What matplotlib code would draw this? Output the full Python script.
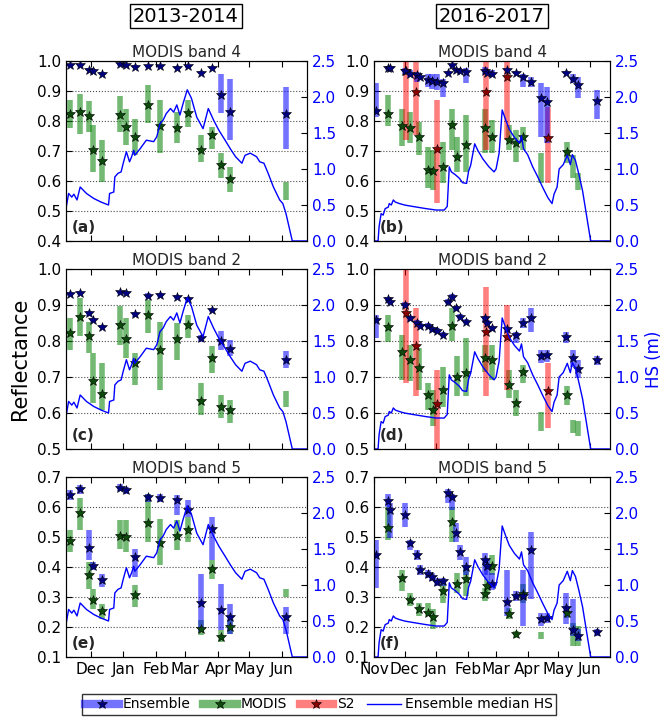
import numpy as np
import matplotlib
matplotlib.use("Agg")
import matplotlib.pyplot as plt
import matplotlib.dates as mdates
from matplotlib.lines import Line2D
from matplotlib.legend_handler import HandlerTuple

nan = np.nan

# ---------------- 2013-2014 season ----------------
dates_13 = ["2013-11-11", "2013-11-21", "2013-11-29", "2013-12-03", "2013-12-12",
            "2013-12-29", "2014-01-04", "2014-01-12", "2014-01-25", "2014-02-05",
            "2014-02-21", "2014-03-04", "2014-03-16", "2014-03-27", "2014-04-04",
            "2014-04-13", "2014-06-05"]

# (a) band 4
a_ens = [0.986, 0.986, 0.971, 0.967, 0.958, 0.989, 0.986, 0.980, 0.982, 0.982, 0.978, 0.982, 0.961, 0.978, 0.886, 0.830, 0.823]
a_ens_lo = [0.981, 0.981, 0.966, 0.962, 0.953, 0.984, 0.981, 0.975, 0.977, 0.977, 0.973, 0.977, 0.956, 0.973, 0.825, 0.738, 0.708]
a_ens_hi = [0.991, 0.991, 0.976, 0.972, 0.963, 0.994, 0.991, 0.985, 0.987, 0.987, 0.983, 0.987, 0.966, 0.983, 0.958, 0.941, 0.914]
a_mod = [0.823, 0.830, 0.816, 0.703, 0.667, 0.819, 0.780, 0.745, 0.853, 0.783, 0.778, 0.827, 0.703, 0.753, 0.653, 0.605, nan]
a_mod_lo = [0.775, 0.758, 0.764, 0.631, 0.598, 0.764, 0.720, 0.686, 0.792, 0.692, 0.725, 0.780, 0.664, 0.708, 0.609, 0.564, 0.537]
a_mod_hi = [0.869, 0.891, 0.866, 0.786, 0.738, 0.882, 0.841, 0.808, 0.919, 0.869, 0.830, 0.869, 0.753, 0.780, 0.692, 0.647, 0.598]

# (c) band 2
c_ens = [0.930, 0.934, 0.877, 0.859, 0.840, 0.935, 0.933, 0.874, 0.926, 0.928, 0.923, 0.916, 0.808, 0.886, 0.800, 0.777, 0.748]
c_ens_lo = [0.925, 0.929, 0.870, 0.853, 0.835, 0.930, 0.928, 0.868, 0.920, 0.923, 0.918, 0.910, 0.796, 0.880, 0.775, 0.757, 0.725]
c_ens_hi = [0.935, 0.939, 0.883, 0.865, 0.845, 0.940, 0.938, 0.880, 0.932, 0.933, 0.928, 0.922, 0.818, 0.892, 0.829, 0.803, 0.771]
c_mod = [0.823, 0.868, 0.814, 0.688, 0.652, 0.845, 0.805, 0.738, 0.872, 0.775, 0.805, 0.845, 0.632, 0.752, 0.618, 0.609, nan]
c_mod_lo = [0.775, 0.814, 0.766, 0.628, 0.609, 0.789, 0.752, 0.678, 0.822, 0.665, 0.748, 0.808, 0.595, 0.711, 0.586, 0.572, 0.618]
c_mod_hi = [0.863, 0.919, 0.854, 0.766, 0.738, 0.896, 0.863, 0.766, 0.914, 0.854, 0.849, 0.872, 0.683, 0.785, 0.651, 0.637, 0.660]

# (e) band 5
e_ens = [0.639, 0.661, 0.464, 0.402, 0.356, 0.664, 0.656, 0.433, 0.633, 0.630, 0.624, 0.591, 0.280, 0.528, 0.258, 0.233, 0.233]
e_ens_lo = [0.622, 0.644, 0.422, 0.389, 0.333, 0.653, 0.644, 0.367, 0.617, 0.617, 0.572, 0.567, 0.183, 0.422, 0.189, 0.178, 0.178]
e_ens_hi = [0.656, 0.672, 0.522, 0.417, 0.378, 0.676, 0.667, 0.461, 0.644, 0.644, 0.639, 0.622, 0.378, 0.567, 0.344, 0.278, 0.267]
e_mod = [0.487, 0.580, 0.372, 0.291, 0.253, 0.502, 0.500, 0.306, 0.547, 0.480, 0.502, 0.524, 0.194, 0.394, 0.167, 0.200, nan]
e_mod_lo = [0.450, 0.522, 0.328, 0.261, 0.228, 0.461, 0.450, 0.267, 0.483, 0.406, 0.456, 0.483, 0.172, 0.361, 0.150, 0.178, 0.300]
e_mod_hi = [0.522, 0.631, 0.417, 0.328, 0.278, 0.558, 0.556, 0.339, 0.644, 0.561, 0.556, 0.567, 0.222, 0.422, 0.189, 0.222, 0.328]

hs_dates_13 = ["2013-11-07", "2013-11-10", "2013-11-13", "2013-11-15", "2013-11-18", "2013-11-21",
               "2013-11-27", "2013-12-04", "2013-12-11", "2013-12-18", "2013-12-19", "2013-12-23",
               "2013-12-24", "2013-12-27", "2013-12-30", "2014-01-01", "2014-01-04", "2014-01-07",
               "2014-01-09", "2014-01-11", "2014-01-12", "2014-01-17", "2014-01-23", "2014-01-30",
               "2014-02-02", "2014-02-05", "2014-02-08", "2014-02-11", "2014-02-15", "2014-02-18",
               "2014-02-21", "2014-02-24", "2014-02-27", "2014-03-03", "2014-03-07", "2014-03-12",
               "2014-03-18", "2014-03-23", "2014-03-28", "2014-04-02", "2014-04-08", "2014-04-13",
               "2014-04-18", "2014-04-24", "2014-04-27", "2014-05-02", "2014-05-08", "2014-05-11",
               "2014-05-15", "2014-05-19", "2014-05-24", "2014-05-27", "2014-05-30", "2014-06-02",
               "2014-06-05", "2014-06-11", "2014-06-26"]
hs_13 = [0.41, 0.66, 0.61, 0.65, 0.57, 0.75,
         0.66, 0.59, 0.54, 0.50, 0.66, 0.68,
         0.89, 0.94, 0.96, 1.08, 1.24, 1.10,
         1.17, 1.26, 1.19, 1.28, 1.40, 1.38,
         1.45, 1.63, 1.68, 1.77, 1.84, 1.79,
         1.89, 1.75, 1.91, 2.10, 1.98, 1.72,
         1.56, 1.84, 1.68, 1.54, 1.40, 1.28,
         1.17, 1.08, 1.19, 1.22, 1.17, 1.10,
         1.08, 0.94, 0.75, 0.66, 0.57, 0.52,
         0.38, 0.0, 0.0]

# ---------------- 2016-2017 season ----------------
ens_dates_16 = ["2016-11-03", "2016-11-15", "2016-11-17", "2016-12-01", "2016-12-06", "2016-12-13",
                "2016-12-16", "2016-12-24", "2016-12-28", "2017-01-02", "2017-01-08", "2017-01-13",
                "2017-01-17", "2017-01-21", "2017-01-25", "2017-01-30", "2017-02-18", "2017-02-20",
                "2017-02-25", "2017-03-12", "2017-03-21", "2017-03-27", "2017-04-04", "2017-04-14",
                "2017-04-20", "2017-05-09", "2017-05-16", "2017-05-21", "2017-06-08"]
mod_dates_16 = ["2016-11-15", "2016-11-29", "2016-12-06", "2016-12-15", "2016-12-24", "2016-12-29",
                "2017-01-08", "2017-01-17", "2017-01-22", "2017-01-30", "2017-02-18", "2017-02-20",
                "2017-02-25", "2017-03-14", "2017-03-21", "2017-03-27", "2017-04-14", "2017-05-10",
                "2017-05-16", "2017-05-21"]
s2_dates_16 = ["2016-12-02", "2016-12-12", "2017-01-02", "2017-02-19", "2017-03-12", "2017-04-21"]

# (b) band 4
b_ens = [0.833, 0.975, 0.975, 0.967, 0.958, 0.952, 0.945, 0.936, 0.933, 0.930, 0.927, 0.961, 0.986, 0.971, 0.967,
         0.963, 0.967, 0.961, 0.955, 0.971, 0.961, 0.947, 0.930, 0.875, 0.864, 0.961, 0.941, 0.919, 0.867]
b_ens_lo = [0.814, 0.970, 0.970, 0.955, 0.947, 0.930, 0.940, 0.914, 0.908, 0.903, 0.881, 0.956, 0.981, 0.966, 0.962,
            0.925, 0.955, 0.956, 0.947, 0.966, 0.956, 0.914, 0.914, 0.747, 0.725, 0.956, 0.925, 0.875, 0.808]
b_ens_hi = [0.925, 0.980, 0.980, 0.975, 0.969, 0.963, 0.950, 0.958, 0.958, 0.958, 0.941, 0.966, 0.991, 0.976, 0.972,
            0.975, 0.980, 0.966, 0.969, 0.976, 0.966, 0.958, 0.947, 0.927, 0.914, 0.966, 0.958, 0.947, 0.902]
b_mod = [0.823, 0.784, 0.778, 0.747, 0.636, 0.633, 0.647, 0.786, 0.681, 0.720, 0.775, nan, 0.745, 0.736, 0.727,
         0.745, nan, 0.697, nan, nan]
b_mod_lo = [0.783, 0.716, 0.725, 0.686, 0.575, 0.570, 0.592, 0.703, 0.631, 0.631, 0.692, nan, 0.692, 0.703, 0.664,
            0.703, 0.592, 0.659, 0.609, 0.570]
b_mod_hi = [0.886, 0.841, 0.830, 0.797, 0.714, 0.703, 0.731, 0.841, 0.747, 0.819, 0.841, nan, 0.803, 0.786, 0.769,
            0.780, 0.692, 0.731, 0.686, 0.625]
b_s2 = [0.967, 0.897, 0.708, 0.897, 0.945, 0.742]
b_s2_lo = [0.736, 0.753, 0.525, 0.703, 0.736, 0.592]
b_s2_hi = [1.0, 1.0, 0.869, 1.0, 1.0, 0.847]

# (d) band 2
d_ens = [0.859, 0.916, 0.909, 0.900, 0.863, 0.851, 0.842, 0.842, 0.833, 0.829, 0.817, 0.909, 0.923, 0.891, 0.868,
         0.854, 0.863, 0.851, 0.835, 0.833, 0.817, 0.849, 0.863, 0.757, 0.761, 0.811, 0.752, 0.722, 0.746]
d_ens_lo = [0.808, 0.910, 0.903, 0.893, 0.856, 0.844, 0.835, 0.835, 0.826, 0.822, 0.810, 0.902, 0.916, 0.884, 0.861,
            0.847, 0.856, 0.844, 0.828, 0.826, 0.795, 0.835, 0.826, 0.738, 0.743, 0.795, 0.729, 0.697, 0.734]
d_ens_hi = [0.872, 0.922, 0.915, 0.907, 0.870, 0.858, 0.849, 0.849, 0.840, 0.836, 0.824, 0.916, 0.930, 0.898, 0.875,
            0.861, 0.870, 0.858, 0.842, 0.840, 0.826, 0.863, 0.891, 0.775, 0.775, 0.826, 0.775, 0.746, 0.757]
d_mod = [0.838, 0.769, 0.746, 0.725, 0.651, 0.607, 0.663, 0.842, 0.701, 0.711, 0.752, nan, 0.748, 0.678, 0.628,
         0.715, nan, 0.649, nan, nan]
d_mod_lo = [0.796, 0.692, 0.688, 0.665, 0.609, 0.563, 0.618, 0.799, 0.646, 0.646, 0.715, nan, 0.692, 0.641, 0.591,
            0.683, 0.549, 0.623, 0.544, 0.535]
d_mod_hi = [0.872, 0.817, 0.789, 0.780, 0.683, 0.665, 0.729, 0.891, 0.757, 0.808, 0.789, nan, 0.789, 0.720, 0.665,
            0.734, 0.604, 0.676, 0.581, 0.577]
d_s2 = [0.877, 0.785, 0.626, 0.826, 0.811, 0.660]
d_s2_lo = [0.683, 0.646, 0.50, 0.646, 0.665, 0.558]
d_s2_hi = [1.0, 0.891, 0.720, 0.951, 0.900, 0.738]

# (f) band 5
f_ens = [0.441, 0.621, 0.590, 0.573, 0.480, 0.441, 0.391, 0.378, 0.367, 0.349, 0.353, 0.647, 0.632, 0.515, 0.449,
         0.400, 0.424, 0.402, 0.345, 0.283, 0.305, 0.305, 0.457, 0.226, 0.231, 0.264, 0.191, 0.171, 0.182]
f_ens_lo = [0.331, 0.601, 0.496, 0.535, 0.457, 0.424, 0.375, 0.364, 0.353, 0.336, 0.336, 0.612, 0.590, 0.485, 0.424,
            0.375, 0.375, 0.358, 0.325, 0.237, 0.287, 0.204, 0.292, 0.204, 0.215, 0.209, 0.171, 0.154, 0.171]
f_ens_hi = [0.491, 0.645, 0.612, 0.612, 0.491, 0.457, 0.408, 0.391, 0.380, 0.364, 0.364, 0.661, 0.645, 0.546, 0.474,
            0.435, 0.446, 0.424, 0.380, 0.391, 0.320, 0.391, 0.518, 0.248, 0.248, 0.314, 0.292, 0.193, 0.193]
f_mod = [0.529, 0.364, 0.290, 0.261, 0.248, 0.235, 0.320, 0.551, 0.342, 0.360, 0.309, 0.336, 0.405, 0.242, 0.176,
         0.309, nan, 0.248, nan, nan]
f_mod_lo = [0.491, 0.320, 0.270, 0.237, 0.237, 0.193, 0.281, 0.485, 0.314, 0.303, 0.287, 0.314, 0.375, 0.226, 0.165,
            0.281, 0.160, 0.231, 0.138, 0.138]
f_mod_hi = [0.601, 0.391, 0.314, 0.281, 0.281, 0.259, 0.347, 0.601, 0.380, 0.402, 0.331, 0.358, 0.441, 0.264, 0.187,
            0.342, 0.184, 0.270, 0.215, 0.204]

hs_dates_16 = ["2016-11-01", "2016-11-05", "2016-11-06", "2016-11-08", "2016-11-10", "2016-11-12", "2016-11-15",
               "2016-11-16", "2016-11-18", "2016-11-20", "2016-11-22", "2016-11-26", "2016-12-01", "2016-12-09",
               "2016-12-22", "2017-01-01", "2017-01-09", "2017-01-12", "2017-01-14", "2017-01-16", "2017-01-20",
               "2017-01-24", "2017-01-27", "2017-01-31", "2017-02-02", "2017-02-04", "2017-02-08", "2017-02-11",
               "2017-02-16", "2017-02-22", "2017-02-27", "2017-03-01", "2017-03-04", "2017-03-07", "2017-03-11",
               "2017-03-14", "2017-03-19", "2017-03-24", "2017-03-26", "2017-03-28", "2017-04-01", "2017-04-06",
               "2017-04-11", "2017-04-16", "2017-04-21", "2017-04-25", "2017-04-27", "2017-04-30", "2017-05-02",
               "2017-05-06", "2017-05-10", "2017-05-13", "2017-05-15", "2017-05-18", "2017-05-21", "2017-05-25",
               "2017-05-29", "2017-06-02", "2017-06-22"]
hs_16 = [0.0, 0.0, 0.20, 0.38, 0.36, 0.45, 0.47,
         0.52, 0.50, 0.57, 0.54, 0.52, 0.50, 0.48,
         0.45, 0.43, 0.43, 0.48, 1.03, 0.96, 0.92,
         0.87, 0.81, 0.80, 0.97, 1.05, 1.35, 1.26,
         1.14, 1.03, 0.96, 1.00, 1.22, 1.82, 1.66,
         1.55, 1.44, 1.36, 1.46, 1.28, 1.20, 1.03,
         0.89, 0.74, 0.60, 0.52, 0.65, 0.75, 1.00,
         1.06, 1.19, 1.06, 1.20, 1.12, 0.95, 0.70,
         0.35, 0.0, 0.0]

ENS_C, MOD_C, S2_C = "b", "g", "r"
BAR_LW = 4
STAR_MS = 7


def d2n(lst):
    return mdates.datestr2num(lst)


def draw_panel(ax, d_e, e, e_lo, e_hi, d_m, m, m_lo, m_hi, d_s=None, s=None, s_lo=None, s_hi=None):
    ax.vlines(d2n(d_m), m_lo, m_hi, color=MOD_C, alpha=0.55, lw=BAR_LW)
    if d_s is not None:
        ax.vlines(d2n(d_s), s_lo, s_hi, color=S2_C, alpha=0.5, lw=BAR_LW)
    ax.vlines(d2n(d_e), e_lo, e_hi, color=ENS_C, alpha=0.55, lw=BAR_LW)
    ax.plot(d2n(d_m), m, "*", ms=STAR_MS, mfc="#0b4a0b", mec="k", mew=0.4, ls="none")
    if d_s is not None:
        ax.plot(d2n(d_s), s, "*", ms=STAR_MS, mfc="#8b0000", mec="k", mew=0.4, ls="none")
    ax.plot(d2n(d_e), e, "*", ms=STAR_MS, mfc="#000080", mec="k", mew=0.4, ls="none")


fig = plt.figure(figsize=(6.64, 7.2), dpi=100)

lefts = [66 / 664, 374 / 664]
widths = [241 / 664, 236 / 664]
bottoms = [1 - 241 / 720, 1 - 449 / 720, 1 - 657 / 720]
height = 180 / 720

xlims = [(mdates.datestr2num("2013-11-07 12:00"), mdates.datestr2num("2014-06-25")),
         (mdates.datestr2num("2016-11-01"), mdates.datestr2num("2017-06-21"))]
ylims = [(0.4, 1.0), (0.5, 1.0), (0.1, 0.7)]
titles = ["MODIS band 4", "MODIS band 2", "MODIS band 5"]
letters = [["(a)", "(b)"], ["(c)", "(d)"], ["(e)", "(f)"]]

panels = {
    (0, 0): (dates_13, a_ens, a_ens_lo, a_ens_hi, dates_13, a_mod, a_mod_lo, a_mod_hi),
    (1, 0): (dates_13, c_ens, c_ens_lo, c_ens_hi, dates_13, c_mod, c_mod_lo, c_mod_hi),
    (2, 0): (dates_13, e_ens, e_ens_lo, e_ens_hi, dates_13, e_mod, e_mod_lo, e_mod_hi),
    (0, 1): (ens_dates_16, b_ens, b_ens_lo, b_ens_hi, mod_dates_16, b_mod, b_mod_lo, b_mod_hi,
             s2_dates_16, b_s2, b_s2_lo, b_s2_hi),
    (1, 1): (ens_dates_16, d_ens, d_ens_lo, d_ens_hi, mod_dates_16, d_mod, d_mod_lo, d_mod_hi,
             s2_dates_16, d_s2, d_s2_lo, d_s2_hi),
    (2, 1): (ens_dates_16, f_ens, f_ens_lo, f_ens_hi, mod_dates_16, f_mod, f_mod_lo, f_mod_hi),
}
hs_all = [(hs_dates_13, hs_13), (hs_dates_16, hs_16)]

for row in range(3):
    for col in range(2):
        ax = fig.add_axes([lefts[col], bottoms[row], widths[col], height])
        draw_panel(ax, *panels[(row, col)])
        ax.set_xlim(*xlims[col])
        lo, hi = ylims[row]
        ax.set_ylim(lo, hi)
        ax.set_yticks(np.round(np.arange(lo, hi + 0.001, 0.1), 1))
        ax.yaxis.grid(True, linestyle=":", color="0.3", lw=0.8)
        ax.xaxis.set_major_locator(mdates.MonthLocator())
        ax.xaxis.set_major_formatter(mdates.DateFormatter("%b"))
        ax.tick_params(direction="in", top=True, labelsize=11, length=4)
        if row < 2:
            ax.tick_params(labelbottom=False)
        ax.set_title(titles[row], fontsize=11, pad=3, color="0.15")
        ax.text(0.025, 0.05, letters[row][col], transform=ax.transAxes,
                fontsize=11, fontweight="bold", color="0.15")

        tw = ax.twinx()
        hd, hv = hs_all[col]
        tw.plot(d2n(hd), hv, color="b", lw=1)
        tw.set_ylim(0, 2.5)
        tw.set_yticks(np.arange(0, 2.51, 0.5))
        tw.tick_params(direction="in", labelsize=11, labelcolor="b", length=4)
        tw.set_xlim(*xlims[col])
        if row == 1 and col == 1:
            tw.set_ylabel("HS (m)", color="b", fontsize=12, labelpad=4)

fig.text(0.03, 1 - 359 / 720, "Reflectance", rotation=90, ha="center", va="center", fontsize=15)

box = dict(boxstyle="square,pad=0.15", fc="white", ec="black", lw=1)
fig.text(186 / 664, 1 - 16 / 720, "2013-2014", ha="center", va="center", fontsize=14, bbox=box)
fig.text(492 / 664, 1 - 16 / 720, "2016-2017", ha="center", va="center", fontsize=14, bbox=box)

h_ens = (Line2D([], [], color=ENS_C, alpha=0.55, lw=BAR_LW + 2),
         Line2D([], [], marker="*", ms=STAR_MS, mfc="#000080", mec="k", mew=0.4, ls="none"))
h_mod = (Line2D([], [], color=MOD_C, alpha=0.55, lw=BAR_LW + 2),
         Line2D([], [], marker="*", ms=STAR_MS, mfc="#0b4a0b", mec="k", mew=0.4, ls="none"))
h_s2 = (Line2D([], [], color=S2_C, alpha=0.5, lw=BAR_LW + 2),
        Line2D([], [], marker="*", ms=STAR_MS, mfc="#8b0000", mec="k", mew=0.4, ls="none"))
h_hs = Line2D([], [], color="b", lw=1)
leg = fig.legend([h_ens, h_mod, h_s2, h_hs], ["Ensemble", "MODIS", "S2", "Ensemble median HS"],
                 handler_map={tuple: HandlerTuple(ndivide=1)},
                 loc="upper center", bbox_to_anchor=(319 / 664, 1 - 694 / 720), ncol=4, fontsize=10,
                 frameon=True, fancybox=False, edgecolor="black", handlelength=2.4,
                 handletextpad=0.3, columnspacing=0.9, borderpad=0.25, borderaxespad=0)
leg.get_frame().set_linewidth(1)

fig.savefig("out.png", dpi=100)
